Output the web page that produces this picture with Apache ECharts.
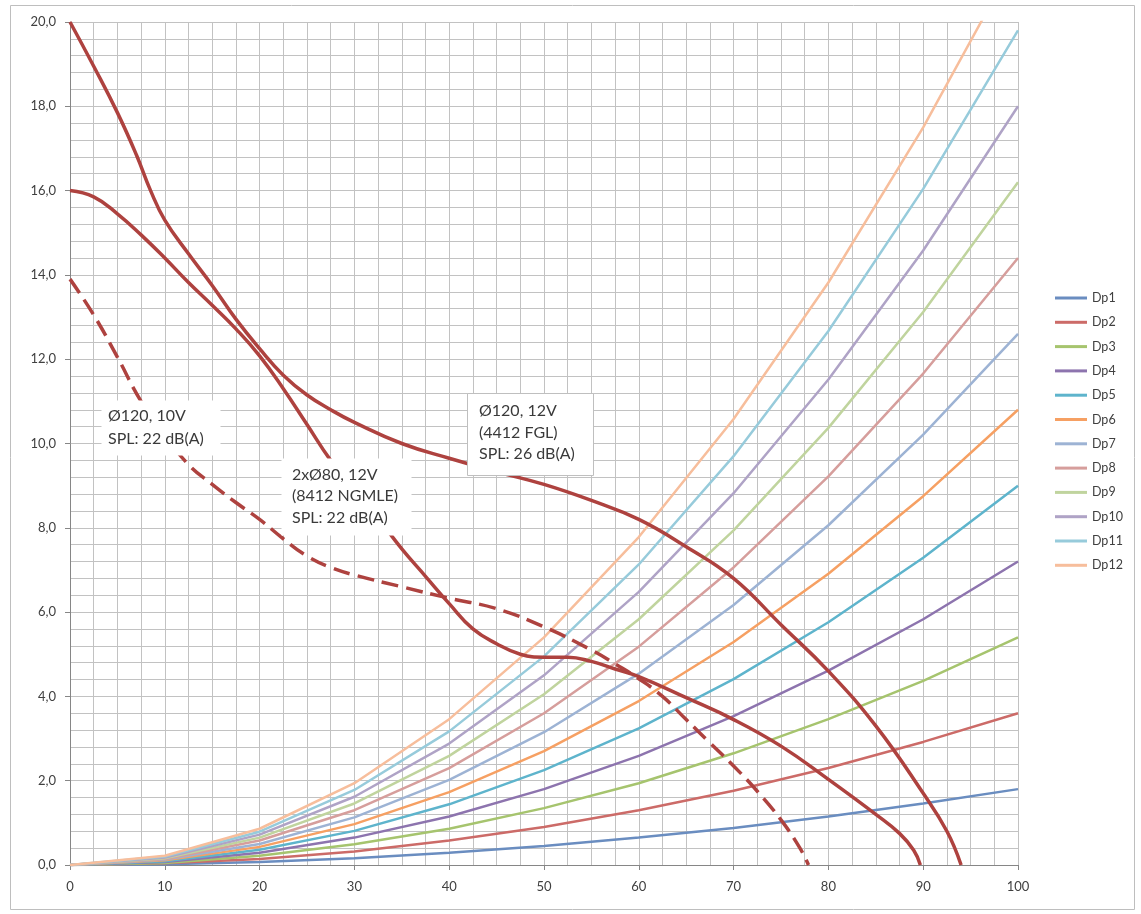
<!DOCTYPE html>
<html>
<head>
<meta charset="utf-8">
<script src="https://cdn.jsdelivr.net/npm/echarts@6/dist/echarts.min.js"></script>
<style>
  html, body { margin: 0; padding: 0; background: #ffffff; }
  #chart { width: 1141px; height: 914px; }
</style>
</head>
<body>
<div id="chart"></div>
<script>
// Airflow points (x axis) shared by the Dp resistance curves
const flowPoints = [0, 10, 20, 30, 40, 50, 60, 70, 80, 90, 100];

// Pressure drop curves Dp1..Dp12
const dp1  = [0, 0.02, 0.07, 0.16, 0.29, 0.45, 0.65, 0.88, 1.15, 1.46, 1.8];
const dp2  = [0, 0.04, 0.14, 0.32, 0.58, 0.90, 1.30, 1.76, 2.30, 2.92, 3.6];
const dp3  = [0, 0.05, 0.22, 0.49, 0.86, 1.35, 1.94, 2.65, 3.46, 4.37, 5.4];
const dp4  = [0, 0.07, 0.29, 0.65, 1.15, 1.80, 2.59, 3.53, 4.61, 5.83, 7.2];
const dp5  = [0, 0.09, 0.36, 0.81, 1.44, 2.25, 3.24, 4.41, 5.76, 7.29, 9.0];
const dp6  = [0, 0.11, 0.43, 0.97, 1.73, 2.70, 3.89, 5.29, 6.91, 8.75, 10.8];
const dp7  = [0, 0.13, 0.50, 1.13, 2.02, 3.15, 4.54, 6.17, 8.06, 10.21, 12.6];
const dp8  = [0, 0.14, 0.58, 1.30, 2.30, 3.60, 5.18, 7.06, 9.22, 11.66, 14.4];
const dp9  = [0, 0.16, 0.65, 1.46, 2.59, 4.05, 5.83, 7.94, 10.37, 13.12, 16.2];
const dp10 = [0, 0.18, 0.72, 1.62, 2.88, 4.50, 6.48, 8.82, 11.52, 14.58, 18.0];
const dp11 = [0, 0.20, 0.79, 1.78, 3.17, 4.95, 7.13, 9.70, 12.67, 16.04, 19.8];
const dp12 = [0, 0.22, 0.86, 1.94, 3.46, 5.40, 7.78, 10.58, 13.82, 17.50, 21.6];

const dpNames = ['Dp1','Dp2','Dp3','Dp4','Dp5','Dp6','Dp7','Dp8','Dp9','Dp10','Dp11','Dp12'];
const dpValues = [dp1, dp2, dp3, dp4, dp5, dp6, dp7, dp8, dp9, dp10, dp11, dp12];

// Fan curves: [airflow, static pressure]
const fan120at12V = [
  [0,20.0],[2.5,18.95],[5,17.85],[7,16.85],[8.5,16.0],[10,15.3],[12.5,14.5],[15,13.75],
  [17.5,12.95],[20,12.25],[22.5,11.62],[25,11.15],[27.5,10.8],[30,10.5],[35,10.0],
  [40,9.65],[45,9.33],[50,9.03],[55,8.65],[60,8.2],[65,7.55],[70,6.8],[75,5.7],
  [80,4.6],[85,3.3],[90,1.7],[92.5,0.8],[94,0]
];
const fan2x80at12V = [
  [0,16.0],[2.5,15.85],[5,15.45],[7.5,14.95],[10,14.4],[12.5,13.82],[15,13.28],[17.5,12.72],
  [20,12.08],[22.5,11.3],[25,10.45],[27.5,9.6],[30,8.92],[32.5,8.23],[35,7.5],[37.5,6.85],
  [40,6.2],[42.5,5.6],[45,5.25],[47.5,5.0],[50,4.93],[52.5,4.93],[55,4.83],[57.5,4.65],
  [60,4.47],[65,3.97],[70,3.45],[75,2.82],[80,2.03],[85,1.2],[87.5,0.75],[89,0.35],[89.7,0]
];
const fan120at10V = [
  [0,13.9],[2.5,13.05],[5,12.05],[7.5,11.0],[10,10.2],[12.5,9.5],[15,9.03],[17.5,8.6],
  [20,8.2],[22.5,7.74],[25,7.33],[27.5,7.06],[30,6.88],[35,6.6],[40,6.33],[45,6.08],
  [50,5.65],[55,5.1],[57.5,4.77],[60,4.42],[62.5,4.0],[65,3.45],[67.5,2.9],[70,2.35],
  [72.5,1.75],[75,1.07],[77,0.4],[77.9,0]
];

// Annotation texts
const note120at10V = ['Ø120, 10V', 'SPL: 22 dB(A)'];
const note2x80at12V = ['2xØ80, 12V', '(8412 NGMLE)', 'SPL: 22 dB(A)'];
const note120at12V = ['Ø120, 12V', '(4412 FGL)', 'SPL: 26 dB(A)'];

const dpColors = [
  '#6A8DC0', '#CC6B68', '#A6C46E', '#8D74AE', '#5EB4CC', '#F6A063',
  '#9DB3D4', '#D69E9C', '#C0D49E', '#AFA3C6', '#97CBDB', '#F7BE9C'
];
const fanColor = '#AE423F';
const fontFamily = 'Lato, "Open Sans", sans-serif';

const series = [];
dpNames.forEach(function (name, i) {
  series.push({
    name: name,
    type: 'line',
    data: flowPoints.map(function (x, k) { return [x, dpValues[i][k]]; }),
    symbol: 'none',
    smooth: false,
    lineStyle: { width: 2.5, color: dpColors[i] },
    itemStyle: { color: dpColors[i] },
    emphasis: { disabled: true },
    z: 2
  });
});
[
  { name: 'fan120at12V', data: fan120at12V, type: 'solid' },
  { name: 'fan2x80at12V', data: fan2x80at12V, type: 'solid' },
  { name: 'fan120at10V', data: fan120at10V, type: [17, 8] }
].forEach(function (f) {
  series.push({
    name: f.name,
    type: 'line',
    data: f.data,
    symbol: 'none',
    smooth: 0.45,
    lineStyle: { width: 3.5, color: fanColor, type: f.type },
    itemStyle: { color: fanColor },
    emphasis: { disabled: true },
    z: 3
  });
});

const chart = echarts.init(document.getElementById('chart'), null, { renderer: 'canvas' });

const option = {
  animation: false,
  backgroundColor: '#ffffff',
  textStyle: { fontFamily: fontFamily },
  grid: { left: 70, right: 123, top: 22, bottom: 49, containLabel: false },
  xAxis: {
    type: 'value',
    min: 0, max: 100, interval: 10,
    axisLine: { show: true, lineStyle: { color: '#868686', width: 1 } },
    axisTick: { show: true, length: 5, lineStyle: { color: '#868686' } },
    minorTick: { show: false, splitNumber: 4 },
    splitLine: { show: true, lineStyle: { color: '#C2C2C2', width: 1 } },
    minorSplitLine: { show: true, lineStyle: { color: '#C2C2C2', width: 1 } },
    axisLabel: { color: '#404040', fontSize: 13, margin: 15, fontFamily: fontFamily }
  },
  yAxis: {
    type: 'value',
    min: 0, max: 20, interval: 2,
    axisLine: { show: true, lineStyle: { color: '#868686', width: 1 } },
    axisTick: { show: true, length: 5, lineStyle: { color: '#868686' } },
    minorTick: { show: false, splitNumber: 5 },
    splitLine: { show: true, lineStyle: { color: '#C2C2C2', width: 1 } },
    minorSplitLine: { show: true, lineStyle: { color: '#C2C2C2', width: 1 } },
    axisLabel: {
      color: '#404040', fontSize: 13, margin: 14, fontFamily: fontFamily,
      formatter: function (v) { return v.toFixed(1).replace('.', ','); }
    }
  },
  legend: {
    orient: 'vertical',
    left: 1055, top: 291, padding: 0,
    data: dpNames.map(function (n) { return { name: n, icon: 'rect' }; }),
    itemWidth: 32, itemHeight: 3, itemGap: 10.3,
    textStyle: { color: '#404040', fontSize: 12.5, lineHeight: 14, fontFamily: fontFamily },
    selectedMode: false
  },
  series: series
};
chart.setOption(option);

// Text boxes placed in data coordinates (top-left corner) with pixel sizes
function noteBox(lines, anchor, w, h, padX, padY, lh, border) {
  const p = chart.convertToPixel({ gridIndex: 0 }, anchor);
  const x0 = Math.round(p[0]);
  const y0 = Math.round(p[1]);
  return [
    {
      type: 'rect',
      z: 100, zlevel: 0,
      shape: { x: x0 + 0.5, y: y0 + 0.5, width: w, height: h },
      style: { fill: '#ffffff', stroke: border ? '#BFBFBF' : null, lineWidth: 1 },
      silent: true
    },
    {
      type: 'text',
      z: 101, zlevel: 0,
      x: x0 + padX, y: y0 + padY,
      style: {
        text: lines.join('\n'),
        font: '16px ' + fontFamily,
        fill: '#3A3A3A',
        lineHeight: lh,
        verticalAlign: 'top',
        align: 'left'
      },
      silent: true
    }
  ];
}

chart.setOption({
  graphic: [
    {
      type: 'rect',
      shape: { x: 10.5, y: 5.5, width: 1124, height: 904 },
      style: { fill: null, stroke: '#BEBEBE', lineWidth: 1 },
      z: 0, silent: true
    }
  ].concat(
    noteBox(note120at10V, [3.27, 11.03], 119, 55, 7, 5, 22.5, false),
    noteBox(note2x80at12V, [22.26, 9.66], 130, 77, 11, 6, 21.5, false),
    noteBox(note120at12V, [41.88, 11.2], 126, 82, 12, 7, 21.7, true)
  )
});
</script>
</body>
</html>
